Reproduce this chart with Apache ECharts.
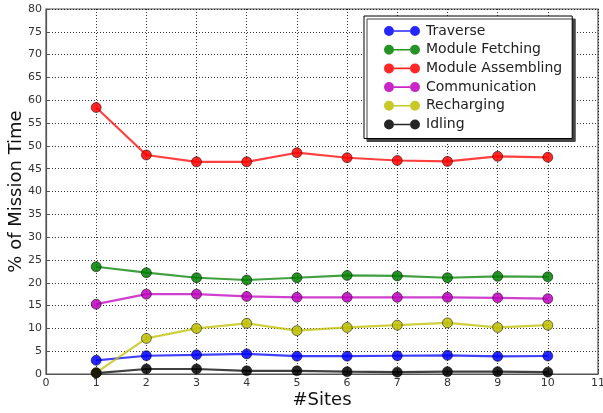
<!DOCTYPE html>
<html>
<head>
<meta charset="utf-8">
<script src="https://cdn.jsdelivr.net/npm/echarts@6/dist/echarts.min.js"></script>
<style>html,body{margin:0;padding:0;background:#fff;}#c{width:603px;height:413px;}</style>
</head>
<body>
<div id="c"></div>
<script>
const sites = [1, 2, 3, 4, 5, 6, 7, 8, 9, 10];
const traverse = [3.0, 4.0, 4.2, 4.4, 3.9, 3.9, 4.0, 4.1, 3.85, 3.95];
const moduleFetching = [23.5, 22.2, 21.1, 20.6, 21.1, 21.6, 21.5, 21.1, 21.4, 21.3];
const moduleAssembling = [58.4, 48.0, 46.5, 46.5, 48.5, 47.4, 46.8, 46.6, 47.7, 47.5];
const communication = [15.3, 17.5, 17.5, 17.0, 16.8, 16.8, 16.8, 16.8, 16.7, 16.5];
const recharging = [0.3, 7.8, 10.0, 11.1, 9.5, 10.2, 10.7, 11.2, 10.2, 10.7];
const idling = [0.2, 1.1, 1.1, 0.7, 0.7, 0.5, 0.4, 0.5, 0.5, 0.4];
const seriesNames = ['Traverse', 'Module Fetching', 'Module Assembling', 'Communication', 'Recharging', 'Idling'];
const seriesData = [traverse, moduleFetching, moduleAssembling, communication, recharging, idling];
const colors = ['#0000ff', '#008000', '#ff0000', '#bf00bf', '#bfbf00', '#000000'];

const icon = 'path://M0,5A5,5 0 1,1 10,5A5,5 0 1,1 0,5Z M10,4.2L26,4.2L26,5.8L10,5.8Z M26,5A5,5 0 1,1 36,5A5,5 0 1,1 26,5Z';
const font = 'DejaVu Sans';
const chart = echarts.init(document.getElementById('c'));
chart.setOption({
  animation: false,
  textStyle: {fontFamily: font},
  grid: {left: 46, right: 5, top: 9, bottom: 39, containLabel: false, outerBoundsMode: 'none',
    show: true, borderColor: '#555', borderWidth: 1.2, backgroundColor: 'transparent'},
  legend: {
    left: 364, top: 16,
    orient: 'vertical',
    data: seriesNames.map(n => ({name: n, icon: icon})),
    itemWidth: 36, itemHeight: 10, itemGap: 4.7,
    padding: [8, 10, 7, 20],
    itemStyle: {borderWidth: 0},
    lineStyle: {width: 0},
    backgroundColor: '#fff', borderColor: '#000', borderWidth: 1,
    shadowColor: '#444', shadowOffsetX: 3, shadowOffsetY: 3, shadowBlur: 0,
    textStyle: {fontFamily: font, fontSize: 14, color: '#222', padding: [0, 0, 0, 1]}
  },
  xAxis: {
    type: 'value', min: 0, max: 11, interval: 1,
    name: '#Sites', nameLocation: 'middle', nameGap: 17, nameMoveOverlap: false,
    nameTextStyle: {fontFamily: font, fontSize: 18, color: '#111'},
    axisLine: {show: true, lineStyle: {color: '#555', width: 1.2}},
    axisTick: {show: true, inside: true, length: 4, lineStyle: {color: '#555'}},
    axisLabel: {fontFamily: font, fontSize: 11, color: '#333', margin: 4},
    splitLine: {show: true, lineStyle: {color: '#000', type: [1, 2], width: 1, opacity: 0.8}}
  },
  yAxis: {
    type: 'value', min: 0, max: 80, interval: 5,
    name: '% of Mission Time', nameLocation: 'middle', nameGap: 21, nameMoveOverlap: false,
    nameTextStyle: {fontFamily: font, fontSize: 18, color: '#111'},
    axisLine: {show: true, lineStyle: {color: '#555', width: 1.2}},
    axisTick: {show: true, inside: true, length: 4, lineStyle: {color: '#555'}},
    axisLabel: {fontFamily: font, fontSize: 11, color: '#333', margin: 4},
    splitLine: {show: true, lineStyle: {color: '#000', type: [1, 2], width: 1, opacity: 0.8}}
  },
  series: seriesNames.map((n, i) => ({
    name: n, type: 'line',
    data: sites.map((s, j) => [s, seriesData[i][j]]),
    symbol: 'circle', symbolSize: 10,
    lineStyle: {color: colors[i], width: 2.2, opacity: 0.75},
    itemStyle: {color: colors[i], borderColor: '#000', borderWidth: 0.6, opacity: 0.85},
    color: colors[i]
  }))
});
</script>
</body>
</html>
